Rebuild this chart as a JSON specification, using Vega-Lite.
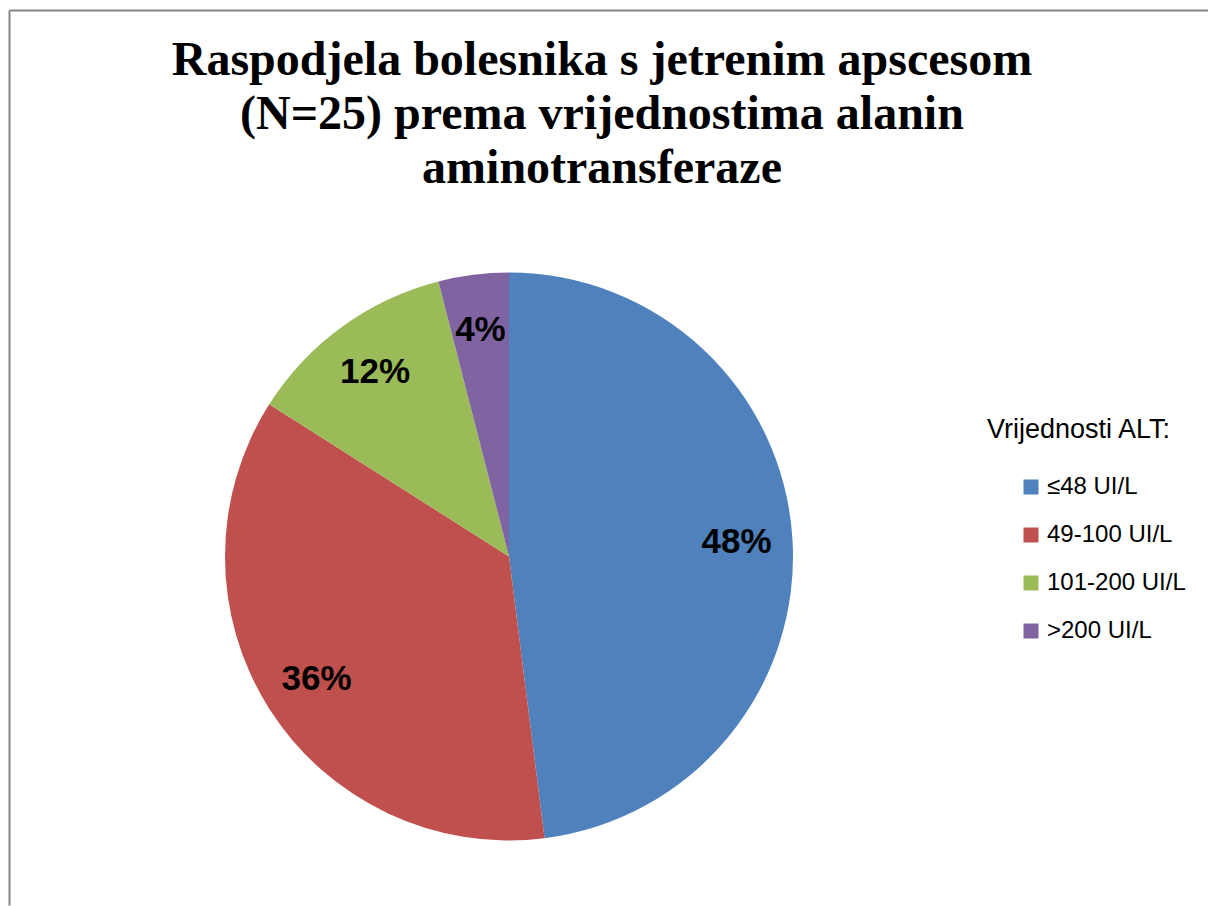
{
  "$schema": "https://vega.github.io/schema/vega-lite/v6.json",
  "usermeta": {"embedOptions": {"actions": false}},
  "autosize": "none",
  "width": 1440,
  "height": 1093,
  "padding": {"left": -211, "top": 10, "right": -21, "bottom": -197},
  "background": "white",
  "config": {
    "view": {"stroke": null},
    "axis": {"domain": false, "ticks": false, "labels": false, "grid": false}
  },
  "title": {
    "text": ["Raspodjela bolesnika s jetrenim apscesom", "(N=25) prema vrijednostima alanin", "aminotransferaze"],
    "font": "Liberation Serif",
    "fontSize": 48,
    "fontWeight": "bold",
    "color": "black",
    "lineHeight": 54,
    "anchor": "middle",
    "frame": "group",
    "baseline": "alphabetic",
    "offset": -224,
    "dx": 93
  },
  "data": {
    "values": [
      {"kategorija": "≤48 UI/L", "broj": 12, "udio": 0.48, "red": 1},
      {"kategorija": "49-100 UI/L", "broj": 9, "udio": 0.36, "red": 2},
      {"kategorija": "101-200 UI/L", "broj": 3, "udio": 0.12, "red": 3},
      {"kategorija": ">200 UI/L", "broj": 1, "udio": 0.04, "red": 4}
    ]
  },
  "layer": [
    {
      "mark": {"type": "point", "opacity": 0},
      "encoding": {
        "x": {
          "datum": 0,
          "type": "quantitative",
          "scale": {"range": [220, 1419]},
          "axis": {
            "orient": "top",
            "offset": 0,
            "domain": true,
            "domainColor": "#868686",
            "domainWidth": 2,
            "title": null
          }
        },
        "y": {
          "datum": 0,
          "type": "quantitative",
          "scale": {"range": [895, 0]},
          "axis": {
            "orient": "left",
            "offset": -220,
            "domain": true,
            "domainColor": "#868686",
            "domainWidth": 2,
            "title": null
          }
        }
      }
    },
    {
      "mark": {"type": "arc", "outerRadius": 284},
      "encoding": {
        "theta": {"field": "broj", "type": "quantitative", "stack": true},
        "order": {"field": "red", "type": "ordinal"},
        "color": {
          "field": "kategorija",
          "type": "nominal",
          "sort": ["≤48 UI/L", "49-100 UI/L", "101-200 UI/L", ">200 UI/L"],
          "scale": {
            "domain": ["≤48 UI/L", "49-100 UI/L", "101-200 UI/L", ">200 UI/L"],
            "range": ["#4F81BD", "#C0504D", "#9BBB59", "#8064A2"]
          },
          "legend": {
            "title": "Vrijednosti ALT:",
            "orient": "none",
            "legendX": 1198,
            "legendY": 407,
            "titleFont": "Liberation Sans",
            "titleFontSize": 27,
            "titleFontWeight": "normal",
            "titleColor": "black",
            "titleLimit": 400,
            "titlePadding": 31,
            "labelFont": "Liberation Sans",
            "labelFontSize": 24,
            "labelColor": "black",
            "labelOffset": 4,
            "labelLimit": 400,
            "symbolType": "square",
            "symbolSize": 225,
            "symbolStrokeWidth": 0,
            "symbolOffset": 32,
            "rowPadding": 24
          }
        }
      }
    },
    {
      "mark": {
        "type": "text",
        "radius": 228,
        "font": "Liberation Sans",
        "fontSize": 35,
        "fontWeight": "bold",
        "align": "center",
        "baseline": "middle",
        "color": "black"
      },
      "encoding": {
        "theta": {"field": "broj", "type": "quantitative", "stack": true},
        "order": {"field": "red", "type": "ordinal"},
        "text": {"field": "udio", "type": "quantitative", "format": ".0%"}
      }
    }
  ]
}
